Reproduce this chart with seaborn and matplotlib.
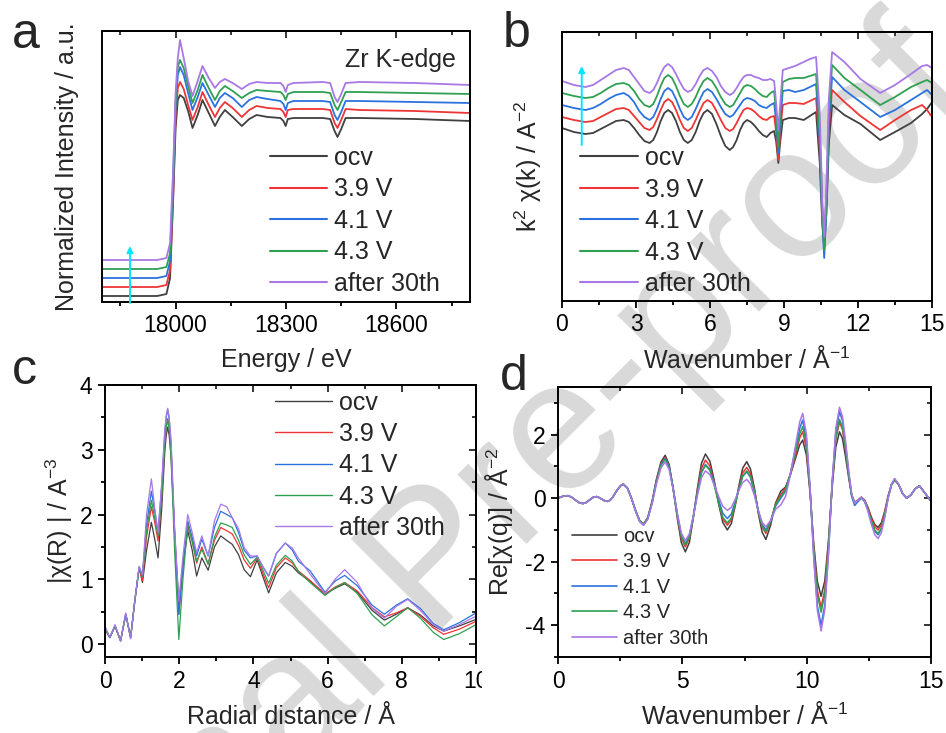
import numpy as np
import pandas as pd
import matplotlib
matplotlib.use("Agg")
import matplotlib.pyplot as plt
import seaborn as sns
from matplotlib.ticker import MultipleLocator, NullLocator, FormatStrFormatter
from matplotlib.transforms import Bbox, TransformedBbox
from matplotlib.lines import Line2D

# ---------------- data ----------------
series = ["ocv", "3.9 V", "4.1 V", "4.3 V", "after 30th"]
colors = ["#404040", "#ee3535", "#2b72e0", "#2fa052", "#a878e6"]

# (a) Zr K-edge XANES
energy = [17800, 17950, 17975, 17985, 17993, 18000, 18006, 18012, 18022, 18034, 18046, 18060,
          18073, 18090, 18107, 18120, 18134, 18155, 18180, 18200, 18220, 18250, 18285, 18293,
          18299, 18305, 18320, 18400, 18420, 18432, 18440, 18450, 18462, 18500, 18650, 18800]
xanes_ocv = [0.07, 0.07, 0.09, 0.25, 1.00, 1.75, 2.03, 2.08, 2.05, 1.92, 1.75, 1.88, 2.03, 1.90, 1.77, 1.86,
             1.93, 1.86, 1.77, 1.84, 1.88, 1.86, 1.85, 1.82, 1.77, 1.84, 1.85, 1.85, 1.84, 1.72, 1.66, 1.74,
             1.85, 1.85, 1.84, 1.82]
xanes_39 = [0.16, 0.16, 0.18, 0.33, 1.05, 1.85, 2.15, 2.21, 2.14, 1.98, 1.83, 1.96, 2.11, 1.98, 1.86, 1.95,
            2.01, 1.95, 1.86, 1.93, 1.97, 1.95, 1.94, 1.91, 1.86, 1.93, 1.94, 1.94, 1.93, 1.80, 1.75, 1.83,
            1.94, 1.93, 1.92, 1.90]
xanes_41 = [0.25, 0.25, 0.27, 0.42, 1.12, 1.95, 2.28, 2.36, 2.28, 2.10, 1.93, 2.06, 2.20, 2.08, 1.96, 2.05,
            2.10, 2.05, 1.96, 2.03, 2.06, 2.04, 2.02, 1.99, 1.93, 2.00, 2.02, 2.02, 2.01, 1.88, 1.83, 1.91,
            2.02, 2.02, 2.01, 2.00]
xanes_43 = [0.34, 0.34, 0.36, 0.50, 1.20, 2.02, 2.36, 2.43, 2.35, 2.17, 2.00, 2.13, 2.28, 2.15, 2.03, 2.12,
            2.17, 2.12, 2.05, 2.10, 2.13, 2.12, 2.11, 2.08, 2.03, 2.09, 2.11, 2.11, 2.10, 1.98, 1.93, 2.01,
            2.11, 2.11, 2.10, 2.09]
xanes_30 = [0.43, 0.43, 0.45, 0.60, 1.30, 2.10, 2.45, 2.63, 2.45, 2.22, 2.07, 2.22, 2.37, 2.25, 2.15, 2.21,
            2.24, 2.20, 2.14, 2.19, 2.21, 2.20, 2.20, 2.17, 2.11, 2.18, 2.20, 2.21, 2.20, 2.06, 2.01, 2.09,
            2.20, 2.21, 2.20, 2.18]

# (b) k2 chi(k)
k_vals = [0, 0.48, 0.95,
          1.26, 1.57, 1.88, 2.19, 2.5,
          2.71, 2.92, 3.13, 3.34, 3.55,
          3.70, 3.85, 4.00, 4.15, 4.3,
          4.46, 4.62, 4.78, 4.94, 5.1,
          5.26, 5.42, 5.58, 5.74, 5.9,
          6.08, 6.26, 6.44, 6.62, 6.8,
          6.94, 7.08, 7.22, 7.36, 7.5,
          7.66, 7.82, 7.98, 8.14, 8.3,
          8.45, 8.6, 8.68, 8.77, 8.85, 8.95,
          9.2, 9.45, 9.8, 10.05, 10.3,
          10.45, 10.55, 10.63, 10.72, 10.82, 10.95,
          11.45, 12.1, 12.9, 13.5, 14.15, 14.6, 14.8, 15.0]
chik_ocv = [1.75, 1.71, 1.69,
            1.70, 1.74, 1.78, 1.82, 1.83,
            1.81, 1.75, 1.68, 1.62, 1.60,
            1.63, 1.71, 1.82, 1.90, 1.93,
            1.90, 1.82, 1.71, 1.63, 1.60,
            1.63, 1.71, 1.82, 1.90, 1.93,
            1.89, 1.79, 1.67, 1.57, 1.53,
            1.56, 1.63, 1.73, 1.80, 1.83,
            1.81, 1.77, 1.72, 1.68, 1.66,
            1.70, 1.72, 1.62, 1.40, 1.62, 1.83,
            1.85, 1.85, 1.83, 1.87, 1.91,
            1.40, 0.80, 0.55, 0.90, 1.60, 1.98,
            1.88, 1.79, 1.63, 1.71, 1.80, 1.89, 1.94, 2.01]
chik_39 = [1.86, 1.83, 1.81,
           1.82, 1.86, 1.90, 1.94, 1.95,
           1.93, 1.87, 1.81, 1.75, 1.73,
           1.76, 1.84, 1.93, 2.01, 2.04,
           2.01, 1.93, 1.83, 1.75, 1.72,
           1.75, 1.83, 1.92, 2.00, 2.03,
           2.00, 1.92, 1.83, 1.75, 1.72,
           1.74, 1.80, 1.87, 1.93, 1.95,
           1.94, 1.91, 1.87, 1.84, 1.83,
           1.86, 1.87, 1.72, 1.43, 1.72, 1.98,
           2.00, 2.00, 1.99, 2.02, 2.05,
           1.55, 0.95, 0.70, 1.05, 1.75, 2.13,
           2.01, 1.87, 1.73, 1.83, 1.93, 1.98, 1.93, 1.86]
chik_41 = [1.98, 1.95, 1.93,
           1.95, 1.99, 2.04, 2.08, 2.10,
           2.07, 2.01, 1.92, 1.86, 1.83,
           1.86, 1.94, 2.04, 2.12, 2.15,
           2.12, 2.04, 1.94, 1.86, 1.83,
           1.86, 1.94, 2.03, 2.11, 2.14,
           2.11, 2.04, 1.96, 1.89, 1.86,
           1.88, 1.93, 1.98, 2.03, 2.05,
           2.04, 2.02, 1.98, 1.96, 1.95,
           1.98, 2.00, 1.82, 1.50, 1.82, 2.12,
           2.13, 2.11, 2.13, 2.16, 2.19,
           1.60, 0.85, 0.45, 0.95, 1.80, 2.26,
           2.13, 2.01, 1.86, 1.93, 2.03, 2.10, 2.13, 2.08]
chik_43 = [2.10, 2.07, 2.05,
           2.06, 2.10, 2.15, 2.19, 2.20,
           2.18, 2.12, 2.04, 1.98, 1.96,
           1.99, 2.07, 2.17, 2.25, 2.28,
           2.25, 2.17, 2.07, 1.99, 1.96,
           1.99, 2.06, 2.15, 2.22, 2.25,
           2.22, 2.15, 2.06, 1.99, 1.96,
           1.98, 2.04, 2.10, 2.16, 2.18,
           2.17, 2.14, 2.10, 2.07, 2.06,
           2.10, 2.12, 1.90, 1.56, 1.90, 2.21,
           2.24, 2.25, 2.25, 2.27, 2.29,
           1.70, 0.90, 0.53, 1.00, 1.90, 2.38,
           2.25, 2.13, 1.98, 2.06, 2.16, 2.21, 2.23, 2.20]
chik_30 = [2.22, 2.18, 2.16,
           2.18, 2.23, 2.28, 2.33, 2.35,
           2.33, 2.26, 2.19, 2.12, 2.10,
           2.13, 2.20, 2.29, 2.36, 2.39,
           2.36, 2.29, 2.21, 2.14, 2.11,
           2.13, 2.19, 2.27, 2.33, 2.35,
           2.32, 2.26, 2.17, 2.11, 2.08,
           2.10, 2.15, 2.21, 2.26, 2.28,
           2.28, 2.26, 2.25, 2.23, 2.23,
           2.24, 2.22, 2.00, 1.73, 2.00, 2.33,
           2.35, 2.37, 2.41, 2.44, 2.46,
           1.90, 1.05, 0.66, 1.20, 2.05, 2.51,
           2.41, 2.24, 2.10, 2.18, 2.29, 2.37, 2.38, 2.35]

# (c) |chi(R)|
r_vals = [0, 0.13, 0.27, 0.42, 0.56, 0.69, 0.80, 0.92, 1.01, 1.12, 1.25, 1.34, 1.43, 1.53, 1.61, 1.65,
          1.69, 1.73, 1.78, 1.88, 1.99, 2.10, 2.23, 2.35, 2.47, 2.61, 2.78, 2.95, 3.12, 3.28, 3.43, 3.60,
          3.75, 3.92, 4.10, 4.25, 4.41, 4.62, 4.86, 5.05, 5.21, 5.53, 5.93, 6.2, 6.46, 6.8, 7.2, 7.53,
          7.85, 8.16, 8.5, 8.85, 9.13, 9.55, 10.0]
chir_ocv = [0.23, 0.10, 0.28, 0.05, 0.46, 0.10, 0.65, 1.18, 0.95,
            1.45, 1.88, 1.62, 1.33, 2.1, 2.95, 3.22, 3.35, 3.22, 2.9, 1.7, 0.61, 1.2, 1.75, 1.45, 1.05,
            1.33, 1.14, 1.5, 1.67, 1.60, 1.54, 1.38, 1.15, 1.04, 1.30, 1.05, 0.79, 1.1, 1.26, 1.20, 1.10,
            0.97, 0.77, 0.86, 0.93, 0.80, 0.52, 0.37, 0.46, 0.56, 0.45, 0.28, 0.20, 0.28, 0.38]
chir_39 = [0.23, 0.10, 0.28, 0.05, 0.46, 0.10, 0.65, 1.18, 0.98,
           1.65, 2.12, 1.88, 1.59, 2.3, 3.1, 3.36, 3.48, 3.36, 3.0, 1.65, 0.46, 1.2, 1.81, 1.6, 1.25,
           1.50, 1.24, 1.6, 1.80, 1.75, 1.70, 1.52, 1.30, 1.17, 1.33, 1.10, 0.87, 1.18, 1.33, 1.25, 1.13,
           0.98, 0.77, 0.88, 0.95, 0.82, 0.56, 0.42, 0.48, 0.56, 0.43, 0.25, 0.15, 0.23, 0.35]
chir_41 = [0.25, 0.10, 0.28, 0.05, 0.46, 0.10, 0.65, 1.18, 1.05,
           1.85, 2.36, 2.05, 1.72, 2.45, 3.25, 3.50, 3.62, 3.48, 3.1, 1.6, 0.46, 1.2, 1.90, 1.65, 1.36,
           1.62, 1.36, 1.8, 2.05, 2.0, 1.95, 1.72, 1.45, 1.33, 1.36, 1.2, 1.05, 1.4, 1.56, 1.45, 1.28,
           1.13, 0.80, 0.97, 1.06, 0.9, 0.6, 0.46, 0.60, 0.70, 0.55, 0.32, 0.22, 0.33, 0.48]
chir_43 = [0.23, 0.10, 0.28, 0.05, 0.46, 0.10, 0.65, 1.18, 1.05,
           1.75, 2.22, 1.95, 1.67, 2.3, 3.1, 3.34, 3.46, 3.32, 2.9, 1.4, 0.07, 1.0, 1.85, 1.58, 1.28,
           1.46, 1.23, 1.65, 1.87, 1.84, 1.80, 1.6, 1.38, 1.23, 1.34, 1.15, 0.94, 1.22, 1.37, 1.28, 1.12,
           0.95, 0.75, 0.87, 0.95, 0.78, 0.45, 0.28, 0.42, 0.56, 0.40, 0.18, 0.07, 0.16, 0.30]
chir_30 = [0.28, 0.10, 0.30, 0.05, 0.48, 0.08, 0.65, 1.20, 1.07,
           2.0, 2.55, 2.1, 1.72, 2.5, 3.3, 3.53, 3.64, 3.50, 3.15, 1.75, 0.66, 1.35, 2.0, 1.72, 1.41,
           1.67, 1.36, 1.9, 2.16, 2.12, 1.95, 1.78, 1.49, 1.36, 1.36, 1.2, 1.05, 1.4, 1.56, 1.48, 1.33,
           1.08, 0.78, 1.0, 1.15, 0.95, 0.55, 0.40, 0.58, 0.69, 0.52, 0.30, 0.20, 0.30, 0.43]

# (d) Re[chi(q)]
q_vals = [0, 0.2, 0.4, 0.55, 0.7, 0.85, 1.0, 1.15, 1.28, 1.42, 1.55, 1.68, 1.78, 1.9, 2.0, 2.1, 2.2,
          2.31, 2.42, 2.53, 2.63,
          2.79, 2.95, 3.12, 3.28, 3.44,
          3.61, 3.79, 3.96, 4.14, 4.31,
          4.47, 4.63, 4.80, 4.96, 5.12,
          5.28, 5.44, 5.61, 5.77, 5.93,
          6.11, 6.28, 6.46, 6.63, 6.81,
          6.97, 7.12, 7.28, 7.43, 7.59,
          7.74, 7.90, 8.05, 8.21, 8.36,
          8.55, 8.75, 8.96, 9.15, 9.35, 9.55, 9.72, 9.84,
          9.99, 10.14, 10.28, 10.43, 10.58,
          10.73, 10.88, 11.02, 11.17, 11.32,
          11.44, 11.56, 11.69, 11.81, 11.93,
          12.05, 12.2,
          12.33, 12.47, 12.60, 12.74, 12.87,
          13.00, 13.14, 13.27, 13.41, 13.54,
          13.70, 13.86, 14.02, 14.19, 14.36, 14.53, 14.77, 15.0]
req_head = [0, 0.06, 0.08, 0.03, -0.06, -0.14, -0.17, -0.13, -0.05, 0.03, 0.05, 0.01, -0.04, -0.09,
            -0.10, -0.06, 0.03, 0.17, 0.30, 0.40, 0.44]
req_tail = [0.43, 0.14, 0.00, 0.10, 0.29, 0.39, 0.15, -0.10]
req_ocv = req_head + [0.32, 0.01, -0.39, -0.70, -0.82,
                      -0.61, -0.07, 0.60, 1.14, 1.35,
                      1.06, 0.30, -0.64, -1.40, -1.69,
                      -1.40, -0.63, 0.33, 1.10, 1.39,
                      1.16, 0.57, -0.18, -0.77, -1.00,
                      -0.80, -0.26, 0.41, 0.95, 1.15,
                      0.92, 0.31, -0.46, -1.07, -1.30,
                      -0.85, -0.15, 0.22, 0.35, 0.75, 1.25, 1.68, 1.83,
                      1.36, 0.13, -1.39, -2.62, -3.09,
                      -2.60, -1.30, 0.30, 1.60, 2.09,
                      1.88, 1.32, 0.64, 0.08, -0.13,
                      -0.07, 0.03,
                      -0.06, -0.30, -0.59, -0.83, -0.92,
                      -0.78, -0.41, 0.06, 0.43, 0.57] + req_tail
req_39 = req_head + [0.32, 0.01, -0.39, -0.70, -0.82,
                     -0.62, -0.10, 0.56, 1.08, 1.28,
                     1.01, 0.31, -0.56, -1.26, -1.53,
                     -1.27, -0.59, 0.26, 0.94, 1.20,
                     1.01, 0.49, -0.14, -0.66, -0.85,
                     -0.68, -0.22, 0.34, 0.80, 0.97,
                     0.77, 0.25, -0.39, -0.91, -1.11,
                     -0.75, -0.18, 0.12, 0.30, 0.75, 1.35, 1.90, 2.09,
                     1.57, 0.19, -1.53, -2.91, -3.43,
                     -2.88, -1.42, 0.39, 1.85, 2.40,
                     2.16, 1.53, 0.74, 0.11, -0.13,
                     -0.07, 0.03,
                     -0.07, -0.33, -0.64, -0.90, -1.00,
                     -0.85, -0.46, 0.03, 0.42, 0.57] + req_tail
req_41 = req_head + [0.32, 0.00, -0.41, -0.73, -0.85,
                     -0.65, -0.13, 0.53, 1.05, 1.25,
                     1.00, 0.33, -0.51, -1.18, -1.43,
                     -1.19, -0.57, 0.20, 0.82, 1.06,
                     0.90, 0.47, -0.05, -0.48, -0.64,
                     -0.50, -0.13, 0.32, 0.69, 0.83,
                     0.66, 0.20, -0.37, -0.83, -1.00,
                     -0.72, -0.25, 0.00, 0.22, 0.80, 1.55, 2.20, 2.46,
                     1.85, 0.23, -1.77, -3.39, -4.00,
                     -3.36, -1.68, 0.40, 2.08, 2.72,
                     2.44, 1.70, 0.79, 0.05, -0.23,
                     -0.12, 0.00,
                     -0.11, -0.40, -0.75, -1.04, -1.15,
                     -0.98, -0.55, 0.00, 0.43, 0.60] + req_tail
req_43 = req_head + [0.32, 0.01, -0.39, -0.70, -0.82,
                     -0.63, -0.12, 0.52, 1.03, 1.22,
                     0.96, 0.29, -0.54, -1.21, -1.47,
                     -1.23, -0.60, 0.17, 0.80, 1.04,
                     0.87, 0.41, -0.15, -0.61, -0.78,
                     -0.62, -0.21, 0.29, 0.70, 0.86,
                     0.68, 0.20, -0.40, -0.88, -1.06,
                     -0.73, -0.20, 0.05, 0.25, 0.78, 1.45, 2.02, 2.25,
                     1.70, 0.24, -1.58, -3.04, -3.59,
                     -3.01, -1.50, 0.39, 1.90, 2.48,
                     2.23, 1.57, 0.76, 0.10, -0.15,
                     -0.08, 0.02,
                     -0.09, -0.37, -0.72, -1.00, -1.11,
                     -0.95, -0.53, 0.00, 0.41, 0.57] + req_tail
req_30 = req_head + [0.32, 0.00, -0.41, -0.73, -0.85,
                     -0.66, -0.16, 0.45, 0.95, 1.14,
                     0.90, 0.28, -0.48, -1.10, -1.34,
                     -1.13, -0.58, 0.10, 0.65, 0.86,
                     0.74, 0.43, 0.05, -0.26, -0.38,
                     -0.29, -0.05, 0.26, 0.50, 0.59,
                     0.45, 0.08, -0.39, -0.76, -0.90,
                     -0.70, -0.35, -0.21, 0.05, 0.75, 1.65, 2.40, 2.67,
                     2.02, 0.31, -1.82, -3.53, -4.18,
                     -3.51, -1.75, 0.43, 2.19, 2.86,
                     2.57, 1.82, 0.89, 0.12, -0.15,
                     -0.08, 0.03,
                     -0.09, -0.42, -0.82, -1.15, -1.27,
                     -1.09, -0.62, -0.03, 0.44, 0.62] + req_tail

# cyan arrows (x, y_start, y_end)
arrow_a = (17876, 0.0, 0.57)
arrow_b = (0.8, 1.58, 2.37)

# ---------------- style ----------------
sns.set_theme(style="ticks")
plt.rcParams["font.family"] = ["Liberation Sans", "DejaVu Sans"]
plt.rcParams["mathtext.fontset"] = "custom"
plt.rcParams["mathtext.rm"] = "Liberation Sans"
plt.rcParams["mathtext.it"] = "Liberation Sans:italic"
plt.rcParams["mathtext.bf"] = "Liberation Sans:bold"
plt.rcParams["mathtext.default"] = "regular"
plt.rcParams["axes.unicode_minus"] = False

W, H = 946, 733
fig = plt.figure(figsize=(W / 100, H / 100), dpi=100)
fig.patch.set_facecolor("white")


def rect(l, r, t, b):
    return [l / W, 1 - b / H, (r - l) / W, (b - t) / H]


ax_a = fig.add_axes(rect(102, 470, 31, 302))
ax_b = fig.add_axes(rect(562, 932, 32, 301))
ax_c = fig.add_axes(rect(105, 476, 385, 657))
ax_d = fig.add_axes(rect(558, 931, 387, 657))


def long_df(x, ys):
    return pd.DataFrame({
        "x": np.tile(np.asarray(x, float), len(ys)),
        "y": np.concatenate([np.asarray(v, float) for v in ys]),
        "series": np.repeat(series, len(x)),
    })


def draw(ax, x, ys, lw):
    sns.lineplot(data=long_df(x, ys), x="x", y="y", hue="series", hue_order=series,
                 palette=colors, ax=ax, linewidth=lw, legend=False, estimator=None, sort=False)
    for ln in ax.get_lines():
        ln.set_solid_joinstyle("round")
    ax.set_xlabel("")
    ax.set_ylabel("")


draw(ax_a, energy, [xanes_ocv, xanes_39, xanes_41, xanes_43, xanes_30], 1.3)
draw(ax_b, k_vals, [chik_ocv, chik_39, chik_41, chik_43, chik_30], 1.3)
draw(ax_c, r_vals, [chir_ocv, chir_39, chir_41, chir_43, chir_30], 0.9)
draw(ax_d, q_vals, [req_ocv, req_39, req_41, req_43, req_30], 1.1)

ax_a.set_xlim(17800, 18800)
ax_a.set_ylim(0.01, 2.72)
ax_b.set_xlim(0, 15)
ax_b.set_ylim(0.02, 2.71)
ax_c.set_xlim(0, 10)
ax_c.set_ylim(-0.2, 4.0)
ax_d.set_xlim(0, 15)
ax_d.set_ylim(-5, 3.5)

TICK_FS = 16.5


def style_axes(ax, xmaj, xmin, ymaj=None, ymin=None):
    ax.set_facecolor("none")
    for s in ax.spines.values():
        s.set_linewidth(1.4)
        s.set_color("black")
        s.set_visible(True)
    ax.xaxis.set_major_locator(MultipleLocator(xmaj))
    ax.xaxis.set_minor_locator(MultipleLocator(xmin))
    ax.tick_params(axis="both", which="both", direction="out", top=False, right=False,
                   labelsize=TICK_FS, width=1.3, colors="black", pad=4)
    ax.tick_params(which="major", length=5)
    ax.tick_params(which="minor", length=3)
    sx = ax.secondary_xaxis("top")
    sx.xaxis.set_major_locator(MultipleLocator(xmaj))
    sx.xaxis.set_minor_locator(MultipleLocator(xmin))
    sx.tick_params(axis="x", which="both", direction="in", labeltop=False, width=1.3)
    sx.tick_params(which="major", length=5)
    sx.tick_params(which="minor", length=3)
    sx.spines["top"].set_linewidth(1.4)
    if ymaj is None:
        ax.yaxis.set_major_locator(NullLocator())
        ax.yaxis.set_minor_locator(NullLocator())
    else:
        ax.yaxis.set_major_locator(MultipleLocator(ymaj))
        ax.yaxis.set_minor_locator(MultipleLocator(ymin))
        sy = ax.secondary_yaxis("right")
        sy.yaxis.set_major_locator(MultipleLocator(ymaj))
        sy.yaxis.set_minor_locator(MultipleLocator(ymin))
        sy.tick_params(axis="y", which="both", direction="in", labelright=False, width=1.3)
        sy.tick_params(which="major", length=5)
        sy.tick_params(which="minor", length=3)
        sy.spines["right"].set_linewidth(1.4)


style_axes(ax_a, 300, 150)
style_axes(ax_b, 3, 1.5)
style_axes(ax_c, 2, 1, 1, 0.5)
style_axes(ax_d, 5, 2.5, 2, 1)
ax_a.xaxis.set_major_formatter(FormatStrFormatter("%d"))

LABEL_FS = 18
ax_a.set_xlabel("Energy / eV", fontsize=LABEL_FS)
ax_b.set_xlabel("Wavenumber / Å$^{-1}$", fontsize=LABEL_FS)
ax_c.set_xlabel("Radial distance / Å", fontsize=LABEL_FS)
ax_d.set_xlabel("Wavenumber / Å$^{-1}$", fontsize=LABEL_FS)
ax_a.set_ylabel("Normalized Intensity / a.u.", fontsize=LABEL_FS)
ax_b.set_ylabel("k$^2$ χ(k) / A$^{-2}$", fontsize=LABEL_FS)
ax_c.set_ylabel("|χ(R) | / A$^{-3}$", fontsize=LABEL_FS)
ax_d.set_ylabel("Re[χ(q)] / Å$^{-2}$", fontsize=LABEL_FS)

ax_a.xaxis.set_label_coords(0.5, -0.168)
ax_b.xaxis.set_label_coords(0.5, -0.168)
ax_c.xaxis.set_label_coords(0.5, -0.178)
ax_d.xaxis.set_label_coords(0.5, -0.168)
ax_a.yaxis.set_label_coords(-0.062, 0.5)
ax_b.yaxis.set_label_coords(-0.05, 0.5)
ax_c.yaxis.set_label_coords(-0.08, 0.5)
ax_d.yaxis.set_label_coords(-0.115, 0.5)


def add_legend(ax, x, y, fs, lw, hl, tp, ls):
    handles = [Line2D([0], [0], color=c, lw=lw) for c in colors]
    leg = ax.legend(handles, series, loc="upper left", bbox_to_anchor=(x, y), frameon=False,
                    fontsize=fs, handlelength=hl, handletextpad=tp, labelspacing=ls,
                    borderpad=0, borderaxespad=0)
    leg.set_zorder(5)


add_legend(ax_a, 0.456, 0.576, 18, 1.5, 2.3, 0.28, 0.30)
add_legend(ax_b, 0.049, 0.576, 18, 1.5, 2.3, 0.28, 0.30)
add_legend(ax_c, 0.458, 0.978, 18, 1.0, 2.3, 0.25, 0.29)
add_legend(ax_d, 0.037, 0.482, 14.5, 1.2, 2.25, 0.3, 0.32)

ax_a.text(0.81, 0.893, "Zr K-edge", transform=ax_a.transAxes, fontsize=18,
          ha="center", va="center")

for ax, (ax_x, y0, y1) in ((ax_a, arrow_a), (ax_b, arrow_b)):
    ax.annotate("", xy=(ax_x, y1), xytext=(ax_x, y0),
                arrowprops=dict(arrowstyle="-|>", color="#00e8ff", lw=1.4,
                                mutation_scale=9, shrinkA=0, shrinkB=0))

for lab, (px, py) in {"a": (12, 48), "b": (503, 47), "c": (12, 384), "d": (500, 390)}.items():
    fig.text(px / W, 1 - py / H, lab, fontsize=36, ha="left", va="baseline")

# watermark behind the axes
fig.text(0.462, 0.228, "Journal Pre-proof", rotation=45, rotation_mode="anchor",
         fontsize=133, color="#d9d9d9", ha="center", va="center", zorder=-10)

fig.canvas.draw()
clip = TransformedBbox(Bbox([[0, 0], [482 / W, 1]]), fig.transFigure)
for t in ax_c.get_xticklabels():
    t.set_clip_box(clip)
    t.set_clip_on(True)

fig.savefig("out.png", dpi=100, facecolor="white")
